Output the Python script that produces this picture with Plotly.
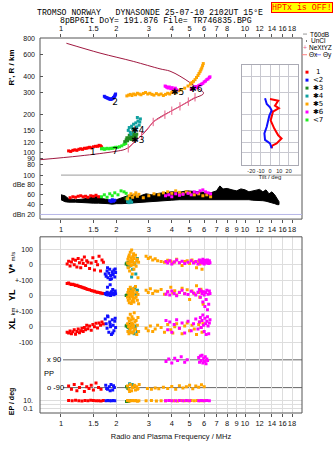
import math
import plotly.graph_objects as go

# ---------------- page geometry ----------------
W, H = 335, 451
ML, MR, MT, MB = 40, 33, 38, 32
PW, PH = W - ML - MR, H - MT - MB


def px(x):
    """pixel column -> paper x"""
    return (x - ML) / PW


def py(y):
    """pixel row -> paper y"""
    return (H - MB - y) / PH


# ---------------- axis ticks ----------------
top_ticks = [1, 1.5, 2, 3, 4, 5, 6, 7, 8, 10, 12, 14, 16, 18]
bot_ticks = [1, 1.5, 2, 3, 4, 5, 6, 7, 8, 9, 10, 12, 14, 16, 18]
h_ticks = [80, 90, 100, 120, 150, 200, 300, 400, 600, 800]
db_ticks = [20, 40, 60, 80, 100]
db_text = ["dBn 20", "40", "60", "dBe 80", "100"]

# ---------------- model profile (MHz, km) ----------------
prof_f = [0.76, 1.27, 1.97, 2.23, 2.37, 2.53, 2.75, 2.97, 3.17, 3.45, 4.00, 4.43, 4.92,
          5.35, 5.70, 5.90, 5.95, 5.88, 5.72, 5.46, 5.02, 4.43, 3.91, 3.45, 2.47, 1.63, 1.07]
prof_h = [87.5, 94, 102, 106, 112, 123, 137, 155, 175, 191, 215, 233, 254,
          272, 282, 290, 298, 306, 314, 329, 360, 405, 444, 463, 531, 618, 740]

# true-height points
nxt_f = [2.32, 2.74, 3.17, 3.67, 4.00, 4.43, 4.92, 5.35]
nxt_h = [108, 137, 175, 200, 215, 233, 254, 275]

# ---------------- echo traces: frequency (MHz) vs virtual range (km) ----------------
e1_f = [1.10, 1.13, 1.16, 1.19, 1.22, 1.25, 1.28, 1.31, 1.34, 1.37, 1.40, 1.43, 1.46, 1.50, 1.54, 1.58, 1.61, 1.64, 1.66]
e1_h = [103, 102, 104, 105, 104, 106, 107, 106, 108, 108, 109, 110, 109, 111, 112, 112, 114, 113, 111]
e2_f = [1.72, 1.74, 1.76, 1.78, 1.80, 1.82, 1.84, 1.86, 1.88, 1.90, 1.92, 1.93, 1.95, 1.96, 1.97, 1.98]
e2_h = [280, 276, 274, 272, 270, 268, 266, 265, 266, 268, 270, 274, 278, 282, 287, 292]
e3_f = [2.22, 2.26, 2.30, 2.33, 2.36, 2.40, 2.44, 2.47, 2.50, 2.53, 2.56, 2.58, 2.35, 2.42, 2.48, 2.28]
e3_h = [122, 126, 124, 130, 128, 133, 130, 136, 132, 138, 134, 140, 137, 127, 142, 131]
e4_f = [2.32, 2.35, 2.38, 2.42, 2.45, 2.48, 2.52, 2.55, 2.58, 2.62, 2.66, 2.70, 2.40, 2.50, 2.60, 2.68]
e4_h = [150, 158, 145, 162, 155, 168, 150, 172, 160, 178, 165, 185, 140, 147, 190, 175]
e5_f = [2.28, 2.33, 2.38, 2.43, 2.48, 2.54, 2.60, 2.66, 2.72, 2.80, 2.88, 2.96, 3.04, 3.12, 3.20, 3.30,
        3.40, 3.50, 3.60, 3.70, 3.80, 3.90, 4.00, 4.10, 4.20, 4.35, 4.50, 4.70, 4.90, 5.05, 5.15, 5.25,
        5.35, 5.45, 5.55, 5.62, 5.70, 5.76, 5.82, 5.88, 5.93]
e5_h = [282, 286, 290, 284, 292, 288, 296, 292, 288, 295, 300, 292, 296, 290, 286, 294,
        288, 292, 284, 290, 296, 292, 300, 305, 298, 310, 315, 325, 338, 350, 360, 368,
        380, 395, 410, 425, 440, 455, 470, 490, 510]
e6_f = [3.68, 3.72, 3.76, 3.82, 3.88, 3.95, 4.02, 4.10, 4.18, 4.26, 5.10, 5.20, 5.30, 5.40, 5.50,
        5.60, 5.70, 5.80, 5.90, 6.00, 6.10, 6.20, 6.30, 6.40, 6.45]
e6_h = [338, 335, 330, 326, 332, 322, 328, 318, 325, 315, 318, 322, 330, 335, 328,
        340, 345, 350, 355, 365, 370, 380, 385, 395, 400]
e7_f = [1.66, 1.69, 1.72, 1.75, 1.78, 1.82, 1.86, 1.90, 1.94, 1.98, 2.03, 2.08, 2.14, 2.20, 2.25]
e7_h = [107, 108, 106, 107, 108, 107, 108, 108, 109, 110, 110, 111, 113, 116, 118]

lab_txt = ["1", "2", "7", "✱3", "✱4", "✱5", "✱6"]
lab_f = [1.49, 1.97, 1.97, 2.62, 2.62, 4.30, 5.40]
lab_h = [99, 250, 101, 125, 150, 300, 318]

# ---------------- tilt profile (deg vs km) ----------------
tx_h = [266, 258, 236, 225, 211, 180, 155, 137, 129, 118, 113.5, 108]
tx_d = [0, 8.8, 5.3, 9.5, 3.2, 0.7, 4.6, 8.8, 12.4, 7.1, 2.4, 1.8]
ty_h = [270, 243, 229, 216, 197, 180, 160, 142, 126, 118, 108]
ty_d = [-5.3, -3.5, 0, 1.8, -0.7, -1.8, -3.5, -6, -5.3, 0, 1.8]

# ---------------- amplitude (dB) ----------------
noise_f = [1.00, 1.05, 1.10, 1.20, 1.30, 1.40, 1.50, 1.60, 1.70, 1.80, 1.90, 2.00, 2.15, 2.30, 2.50,
           2.70, 2.90, 3.10, 3.40, 3.70, 4.00, 4.40, 4.80, 5.20, 5.60, 6.00, 6.50, 7.00, 7.30, 7.60,
           8.00, 8.50, 9.00, 9.50, 10.0, 10.5, 11.0, 11.5, 12.0, 12.5, 13.0, 13.5, 14.0, 14.5, 15.0, 15.3]
noise_hi = [60, 58, 52, 50, 51, 53, 55, 57, 52, 50, 48, 50, 54, 58, 60,
            58, 62, 60, 63, 64, 66, 65, 68, 67, 66, 65, 64, 68, 78, 72,
            73, 70, 68, 72, 70, 66, 68, 70, 71, 66, 70, 62, 66, 60, 50, 46]
noise_lo = [50, 46, 45, 45, 44, 44, 43, 43, 43, 42, 41, 42, 42, 42, 43,
            44, 45, 46, 47, 48, 49, 50, 50, 51, 51, 51, 51, 51, 51, 50,
            50, 50, 50, 50, 50, 50, 49, 49, 48, 48, 47, 46, 44, 42, 40, 40]
db1_f = [1.12, 1.16, 1.20, 1.24, 1.28, 1.32, 1.36, 1.40, 1.45, 1.50, 1.55, 1.60]
db1_v = [54, 56, 55, 57, 58, 56, 57, 55, 58, 57, 59, 56]
db2_f = [1.84, 1.87, 1.90, 1.93, 1.96]
db2_v = [48, 46, 50, 47, 49]
db3_f = [2.26, 2.30, 2.34]
db3_v = [52, 55, 50]
db4_f = [2.30, 2.34, 2.38, 2.42]
db4_v = [46, 44, 48, 45]
db5_f = [2.30, 2.35, 2.40, 2.45, 2.50, 2.55, 2.60, 2.65, 2.80, 3.00, 3.20, 3.40, 3.60, 3.80, 4.00,
         4.20, 4.40, 4.60, 4.80, 5.00, 5.30, 5.60, 5.90, 6.20, 6.50]
db5_v = [52, 58, 62, 55, 60, 64, 57, 61, 54, 58, 62, 60, 64, 66, 63,
         68, 65, 62, 66, 64, 60, 62, 58, 60, 56]
db6_f = [3.70, 3.85, 4.00, 4.20, 4.40, 4.60, 4.90, 5.10, 5.30, 5.50, 5.70, 5.90, 6.10, 6.30, 6.50]
db6_v = [58, 60, 56, 62, 59, 61, 63, 60, 66, 64, 68, 70, 66, 64, 62]
db7_f = [1.66, 1.72, 1.78, 1.84, 1.90, 1.96, 2.04, 2.12, 2.20, 2.26]
db7_v = [56, 60, 55, 62, 58, 64, 60, 68, 66, 63]

# ---------------- velocity V* (m/s), location YL / XL (km) ----------------
b1_f = [1.08, 1.10, 1.12, 1.14, 1.16, 1.18, 1.20, 1.22, 1.24, 1.26, 1.28, 1.30, 1.32, 1.34, 1.36,
        1.38, 1.40, 1.43, 1.46, 1.49, 1.52, 1.55, 1.58, 1.61, 1.64, 1.67, 1.70]
b1_v = [5, 22, -8, 18, 35, 0, 28, -15, 40, 12, -20, 30, 8, 50, -5, 25, 15, -25, 10, 45, -35, 20, 0, 55, -40, 30, 15]
b1_yl = [78, 82, 76, 72, 74, 70, 66, 68, 62, 60, 58, 55, 52, 50, 46, 44, 40, 38, 34, 30, 28, 24, 22, 20, 18, 16, 15]
b1_xl = [-35, -40, -28, -45, -32, -20, -48, -30, -15, -38, -25, -10, -30, -5, -20, 10, -12, 5, -22, 15, 0, 22, -8, 25, 10, 30, 18]

b2_f = [1.74, 1.76, 1.78, 1.80, 1.82, 1.84, 1.86, 1.88, 1.90, 1.92, 1.94, 1.96, 1.98, 1.79, 1.85, 1.91, 1.97]
b2_v = [-60, -75, -40, -85, -55, -30, -70, -90, -45, -65, -35, -80, -50, -20, -95, -60, -28]
b2_yl = [15, 8, 22, 5, 12, 18, 2, 25, 10, 14, 6, 20, 12, 55, 70, 40, 30]
b2_xl = [50, 20, -10, 65, -35, 30, 0, -50, 45, 10, -25, 35, -5, 70, 15, -40, 55]

b3_f = [2.26, 2.28, 2.30, 2.32, 2.34, 2.36]
b3_v = [5, 10, 0, -15, 15, -5]
b3_yl = [2, 5, 0, 10, -5, 3]
b3_xl = [5, 10, 0, -5, 15, 8]

b4_f = [2.35, 2.40, 2.45, 2.50, 2.55, 2.60, 2.42, 2.52]
b4_v = [-10, 20, -30, 5, -60, 40, -80, 10]
b4_yl = [30, 40, 20, 45, 10, 35, 25, 50]
b4_xl = [-20, -35, 10, -45, 5, -30, 20, -10]

b5_f = [2.30, 2.31, 2.32, 2.33, 2.34, 2.35, 2.36, 2.37, 2.38, 2.39, 2.40, 2.41, 2.42, 2.43, 2.44,
        2.45, 2.46, 2.47, 2.48, 2.49, 2.50, 2.52, 2.54, 2.56, 2.58, 2.60, 2.62, 2.64,
        2.90, 2.98, 3.06, 3.15, 3.25, 3.35, 3.50, 3.65, 3.80, 3.95, 4.05, 4.15, 4.25, 4.40,
        4.55, 4.70, 4.85, 5.00, 5.15, 5.30, 5.45, 5.60, 5.68, 5.76, 5.84, 5.92, 6.00, 6.10]
b5_v = [10, 35, -20, 50, 5, 62, -40, 25, 80, 15, -5, 45, 95, 30, -60, 20, 55, 0, 70, -30, 40, 10, 60, -10, 25, 35, -85, 15,
        55, 40, 48, 30, 38, 25, 20, 15, 28, 22, 10, 18, 35, 12, -5, 20, 25, 8, 30, 15, -20, 22, 5, 18, -30, 12]
b5_yl = [-10, 20, -30, 40, 5, -45, 15, -20, 55, 0, 30, -50, 10, -35, 25, -5, 45, -25, 12, -40, 35, -15, 60, -8, 20, -30, 8, -52,
         35, 20, 45, 15, 30, 28, 40, 10, 25, 55, 18, 32, 5, 22, 48, 15, 38, -25, 30, 12, 65, 20, -10, 42, 25, -55]
b5_xl = [20, -30, 55, 0, -45, 35, 10, -20, 80, -10, 45, -35, 25, 65, -5, 15, -40, 50, 5, -25, 90, 30, -15, 40, -50, 10, 60, -30,
         -10, -25, 5, -30, -15, 10, -5, -35, 15, -20, -40, 0, 20, -10, -45, 5, 25, -25, 10, -15, -50, 15, 30, -5, -35, 20]

b6_f = [3.72, 3.80, 3.90, 4.00, 4.12, 4.25, 4.40, 4.55, 4.70, 4.90, 5.10, 5.25, 5.40, 5.55, 5.65,
        5.72, 5.78, 5.84, 5.90, 5.95, 6.00, 6.05, 6.10, 6.15, 6.20, 6.25, 6.30, 6.35, 6.40, 6.45]
b6_v = [20, 10, 25, 5, 18, 30, 12, 22, 8, 15, 25, 10, 20, 5, 30, 15, 25, 10, 35, 20, 5, 28, 15, 22, 10, 30, 18, 8, 25, 12]
b6_yl = [10, 25, 5, 30, 15, 0, 20, 35, 12, 8, 28, 18, 5, 22, 40, -10, 30, 15, -40, 25, 5, -70, 20, -25, 35, -90, 10, -55, 30, 15]
b6_xl = [40, -20, 30, -35, 15, 45, -10, 25, -40, 35, -25, 20, 50, -15, 30, 60, -5, 40, 75, 10, -30, 55, 20, -50, 35, 65, 5, -45, 25, 45]

# ---------------- polarization PP (deg) and EP (deg) ----------------
pp1_f = [1.10, 1.14, 1.18, 1.22, 1.26, 1.30, 1.34, 1.38, 1.42, 1.46, 1.50, 1.55, 1.60, 1.65]
pp1_v = [-80, -100, -70, -110, -90, -65, -115, -85, -95, -75, -105, -60, -90, -100]
ep1_f = [1.10, 1.15, 1.20, 1.25, 1.30, 1.35, 1.40, 1.45, 1.50, 1.55, 1.60, 1.65, 1.70]
ep1_v = [12, 10, 15, 11, 9, 13, 10, 14, 12, 10, 11, 9, 13]
pp2_f = [1.75, 1.79, 1.83, 1.87, 1.91, 1.95, 1.77, 1.85, 1.93]
pp2_v = [-75, -100, -85, -70, -105, -90, -95, -110, -78]
ep2_f = [1.76, 1.80, 1.84, 1.88, 1.92, 1.96]
ep2_v = [11, 12, 10, 11, 13, 10]
pp3_f = [2.27, 2.31]
pp3_v = [-85, -95]
ep3_f = [2.27, 2.30, 2.33]
ep3_v = [7, 6, 8]
pp4_f = [2.36, 2.44, 2.50]
pp4_v = [-65, -70, -80]
ep4_f = [2.40]
ep4_v = [12]
pp5_f = [2.30, 2.34, 2.38, 2.42, 2.46, 2.50, 2.54, 2.58, 2.62, 2.66, 2.36, 2.44, 2.52, 2.60, 2.95, 3.10,
         3.25, 3.40, 3.60, 3.80, 4.00, 4.20, 4.40, 4.60, 4.80, 5.00, 5.20, 5.40, 5.60, 5.80, 6.00]
pp5_v = [-80, -100, -70, -110, -90, -75, -105, -85, -95, -70, -115, -88, -78, -100, -95, -100,
         -92, -98, -88, -95, -82, -100, -78, -92, -85, -75, -98, -80, -88, -72, -85]
ep5_f = [2.30, 2.35, 2.40, 2.45, 2.50, 2.55, 2.60, 2.65, 2.90, 3.10, 3.30, 3.50, 3.70, 3.90, 4.10,
         4.30, 4.50, 4.70, 4.90, 5.10, 5.30, 5.50, 5.70, 5.90, 6.10]
ep5_v = [12, 9, 11, 13, 10, 12, 8, 11, 10, 12, 9, 11, 10, 12, 11, 9, 12, 10, 11, 13, 10, 12, 11, 10, 12]
pp6_f = [3.72, 3.85, 4.00, 4.15, 4.30, 4.50, 4.70, 4.85, 5.60, 5.66, 5.72, 5.78, 5.84, 5.90,
         5.96, 6.02, 6.08, 6.14, 6.20, 6.26]
pp6_v = [80, 95, 70, 100, 85, 110, 75, 90, 105, 75, 115, 85, 120, 70, 100, 80, 110, 65, 95, 85]
ep6_f = [3.70, 3.85, 4.00, 4.20, 4.40, 4.60, 4.80, 5.00, 5.60, 5.80, 6.00, 6.20, 6.40]
ep6_v = [11, 12, 10, 11, 13, 10, 12, 11, 10, 12, 11, 13, 10]

# ---------------- colours ----------------
C1, C2, C3, C4, C5, C6, C7 = "#ff0000", "#1010ff", "#208a20", "#10a0a0", "#ffa500", "#ff00ff", "#22ee22"
PROF = "#a01840"
NXT = "#e8608a"
FRAME = "#555555"
GRID = "#dddddd"

# stacked rows of the lower panel
V_OFF, YL_OFF, XL_OFF = 0, -200, -400
PP_MID, PP_SCALE = -702.5, 0.9944
EP_REF, EP_DEC = -877, 23.5

fig = go.Figure()


def dots(xs, ys, color, xa, ya, size=3):
    fig.add_trace(go.Scatter(x=xs, y=ys, mode="markers", xaxis=xa, yaxis=ya,
                             marker=dict(symbol="square", size=size, color=color, line_width=0),
                             hoverinfo="skip"))


# upper panel: profile, echoes
fig.add_trace(go.Scatter(x=prof_f, y=prof_h, mode="lines", line=dict(color=PROF, width=1, shape="spline"),
                         xaxis="x", yaxis="y", hoverinfo="skip"))
fig.add_trace(go.Scatter(x=nxt_f, y=nxt_h, mode="lines+markers", line=dict(color=NXT, width=1),
                         marker=dict(symbol="line-ns-open", size=6, line=dict(color=NXT, width=1)),
                         xaxis="x", yaxis="y", hoverinfo="skip"))
for xs, ys, c in [(e1_f, e1_h, C1), (e2_f, e2_h, C2), (e7_f, e7_h, C7), (e3_f, e3_h, C3),
                  (e4_f, e4_h, C4), (e5_f, e5_h, C5), (e6_f, e6_h, C6)]:
    dots(xs, ys, c, "x", "y")
fig.add_trace(go.Scatter(x=lab_f, y=lab_h, mode="text", text=lab_txt, xaxis="x", yaxis="y",
                         textfont=dict(family="DejaVu Sans", size=9, color="black"), hoverinfo="skip"))

# tilt inset
fig.add_trace(go.Scatter(x=tx_d, y=tx_h, mode="lines", line=dict(color="#ff0000", width=2),
                         xaxis="x4", yaxis="y3", hoverinfo="skip"))
fig.add_trace(go.Scatter(x=ty_d, y=ty_h, mode="lines", line=dict(color="#1010ff", width=2),
                         xaxis="x4", yaxis="y3", hoverinfo="skip"))

# amplitude band
fig.add_trace(go.Scatter(x=noise_f + noise_f[::-1], y=noise_hi + noise_lo[::-1], mode="lines",
                         fill="toself", fillcolor="black", line=dict(color="black", width=1),
                         xaxis="x2", yaxis="y2", hoverinfo="skip"))
for xs, ys, c in [(db1_f, db1_v, C1), (db2_f, db2_v, C2), (db7_f, db7_v, C7), (db3_f, db3_v, C3),
                  (db4_f, db4_v, C4), (db5_f, db5_v, C5), (db6_f, db6_v, C6)]:
    dots(xs, ys, c, "x2", "y2")

# lower panel rows
for f, v, yl, xl, c in [(b1_f, b1_v, b1_yl, b1_xl, C1), (b2_f, b2_v, b2_yl, b2_xl, C2),
                        (b3_f, b3_v, b3_yl, b3_xl, C3), (b4_f, b4_v, b4_yl, b4_xl, C4),
                        (b5_f, b5_v, b5_yl, b5_xl, C5), (b6_f, b6_v, b6_yl, b6_xl, C6)]:
    dots(f, [a + V_OFF for a in v], c, "x3", "y4")
    dots(f, [a + YL_OFF for a in yl], c, "x3", "y4")
    dots(f, [a + XL_OFF for a in xl], c, "x3", "y4")

for pf, pv, ef, ev, c in [(pp1_f, pp1_v, ep1_f, ep1_v, C1), (pp2_f, pp2_v, ep2_f, ep2_v, C2),
                          (pp3_f, pp3_v, ep3_f, ep3_v, C3), (pp4_f, pp4_v, ep4_f, ep4_v, C4),
                          (pp5_f, pp5_v, ep5_f, ep5_v, C5), (pp6_f, pp6_v, ep6_f, ep6_v, C6)]:
    dots(pf, [PP_MID + a * PP_SCALE for a in pv], c, "x3", "y4")
    dots(ef, [EP_REF + EP_DEC * math.log10(a / 10) for a in ev], c, "x3", "y4")

TICKF = dict(family="Liberation Sans", size=7.5, color="#111111")
YTICKF = dict(family="Liberation Sans", size=7, color="#111111")
XR = [math.log10(0.769), math.log10(20.4)]

fig.update_layout(
    width=W, height=H, margin=dict(l=ML, r=MR, t=MT, b=MB),
    paper_bgcolor="white", plot_bgcolor="white", showlegend=False,
    xaxis=dict(type="log", range=XR, domain=[0, 1], anchor="y", side="top", tickangle=0,
               tickvals=top_ticks, ticktext=[str(t) for t in top_ticks], tickfont=TICKF,
               ticks="outside", ticklen=3, tickcolor=FRAME, showgrid=False, zeroline=False),
    xaxis2=dict(type="log", range=XR, domain=[0, 1], anchor="y2", side="bottom", tickangle=0,
                tickvals=bot_ticks, ticktext=[str(t) for t in bot_ticks], tickfont=TICKF,
                ticks="outside", ticklen=3, tickcolor=FRAME, showgrid=False, zeroline=False),
    xaxis3=dict(type="log", range=XR, domain=[0, 1], anchor="y4", side="bottom", tickangle=0,
                tickvals=bot_ticks, ticktext=[str(t) for t in bot_ticks], tickfont=TICKF,
                ticks="outside", ticklen=3, tickcolor=FRAME, showgrid=True, gridcolor=GRID,
                zeroline=False,
                title=dict(text="Radio and Plasma Frequency / MHz", font=TICKF, standoff=6)),
    xaxis4=dict(range=[-30, 30], domain=[px(242), px(298)], anchor="y3", side="bottom", tickangle=0,
                tickvals=[-30, -20, -10, 0, 10, 20, 30], ticktext=["", "-20", "-10", "0", "10", "20", ""],
                tickfont=dict(family="Liberation Sans", size=5.5, color="#222"), ticks="", showgrid=True,
                gridcolor="#c8c8d0", zeroline=False, showline=True, mirror=True, linecolor="#aaaab4",
                title=dict(text="Tilt / deg", font=dict(family="Liberation Sans", size=6, color="#222"),
                           standoff=0)),
    yaxis=dict(type="log", range=[1.893, 2.911], domain=[py(168), py(38)], anchor="x",
               tickvals=h_ticks, ticktext=[str(t) for t in h_ticks], tickfont=YTICKF,
               ticks="inside", ticklen=3, tickcolor=FRAME, ticklabelstandoff=4,
               showgrid=False, zeroline=False),
    yaxis2=dict(range=[10.6, 118.6], domain=[py(222), py(168)], anchor="x2",
                tickvals=db_ticks, ticktext=db_text, tickfont=YTICKF,
                ticks="inside", ticklen=3, tickcolor=FRAME, ticklabelstandoff=4,
                showgrid=False, zeroline=False),
    yaxis3=dict(type="log", range=[1.9007, 2.6994], domain=[py(167), py(65)], anchor="x4",
                tickvals=[100, 120, 150, 200, 300, 400], showticklabels=False, ticks="",
                showgrid=True, gridcolor="#c8c8d0", zeroline=False, showline=True, mirror=True,
                linecolor="#aaaab4"),
    yaxis4=dict(range=[-955.5, 179.4], domain=[0, py(240)], anchor="x3",
                tickvals=[100, 0, -100, -200, -300, -400, -500, EP_REF, EP_REF - 2 * EP_DEC],
                ticktext=["100", "0", "+-100", "0", "+-100", "0", "-100", "10.", "0.1"],
                tickfont=YTICKF, ticks="", ticklabelstandoff=6,
                showgrid=True, gridcolor=GRID, zeroline=False),
)

shapes = []
# panel frames
for (y0, y1) in [(38, 222), (240, 419)]:
    shapes.append(dict(type="rect", xref="paper", yref="paper", x0=0, x1=1, y0=py(y1), y1=py(y0),
                       line=dict(color=FRAME, width=1), layer="above"))
# amplitude reference lines
shapes.append(dict(type="line", xref="paper", yref="y2", x0=px(61), x1=1, y0=100, y1=100,
                   line=dict(color="#9a9a9a", width=1)))
shapes.append(dict(type="line", xref="paper", yref="y2", x0=0, x1=1, y0=20, y1=20,
                   line=dict(color="#b8b8e8", width=1)))
# polarization reference lines
for yv in (PP_MID + 90 * PP_SCALE, PP_MID - 90 * PP_SCALE):
    shapes.append(dict(type="line", xref="paper", yref="y4", x0=px(63), x1=1, y0=yv, y1=yv,
                       line=dict(color="#666666", width=1), layer="below"))
shapes.append(dict(type="line", xref="paper", yref="y4", x0=0, x1=1, y0=EP_REF - EP_DEC,
                   y1=EP_REF - EP_DEC, line=dict(color=GRID, width=1), layer="below"))

# legend swatches
LEG = [C1, C2, C3, C4, C5, C6, C7]
LEG_T = ["1", "<2", "✱3", "✱4", "✱5", "✱6", "<7"]
for i, c in enumerate(LEG):
    yy = 72.7 + 8.1 * i
    shapes.append(dict(type="rect", xref="paper", yref="paper", x0=px(305.5), x1=px(308.5),
                       y0=py(yy + 1.5), y1=py(yy - 1.5), fillcolor=c, line_width=0))
shapes.append(dict(type="line", xref="paper", yref="paper", x0=px(303), x1=px(307), y0=py(34), y1=py(34),
                   line=dict(color="#999999", width=1)))
shapes.append(dict(type="rect", xref="paper", yref="paper", x0=px(306), x1=px(307), y0=py(41.5), y1=py(40.5),
                   fillcolor="black", line_width=0))
shapes.append(dict(type="line", xref="paper", yref="paper", x0=px(302), x1=px(307), y0=py(55), y1=py(55),
                   line=dict(color="#ff8080", width=1)))
shapes.append(dict(type="line", xref="paper", yref="paper", x0=px(316), x1=px(321), y0=py(55), y1=py(55),
                   line=dict(color="#8080ff", width=1)))
fig.update_layout(shapes=shapes)

ann = []


def note(x, y, text, size=8, color="black", family="Liberation Sans", angle=0, xanchor="center", **kw):
    ann.append(dict(xref="paper", yref="paper", x=px(x), y=py(y), text=text, showarrow=False,
                    font=dict(family=family, size=size, color=color), textangle=angle,
                    xanchor=xanchor, yanchor="middle", borderpad=0, **kw))


NB = "\u00a0"
note(150, 12, f"TROMSO{NB}NORWAY{NB}{NB}{NB}DYNASONDE{NB}25-07-10{NB}2102UT{NB}15°E",
     size=8.2, family="Liberation Mono")
note(156, 20.5, f"8pBP6It{NB}DoY={NB}191.876{NB}File={NB}TR746835.BPG", size=8.2, family="Liberation Mono")
note(302.3, 7.2, f"HPTx{NB}is{NB}OFF!", size=8.3, family="Liberation Mono", color="#ff0000",
     bgcolor="#ffff00", bordercolor="#ff0000", borderwidth=1)

note(12, 68, "<b>R', R / km</b>", size=8, angle=-90)
note(12, 266, "<b>V*</b> <span style='font-size:6px'>m/s</span>", size=9, angle=-90)
note(12, 299, "<b>YL</b>", size=9, angle=-90)
note(12, 323, "<b>XL</b> <span style='font-size:6px'>km</span>", size=9, angle=-90)
note(12, 407, "<b>EP / deg</b>", size=7, angle=-90)
note(46, 365, "x 90", size=7.5, xanchor="left")
note(43, 379, "PP", size=7.5, xanchor="left")
note(46, 393, "o -90", size=7.5, xanchor="left")

# legend text
note(309, 34, "T60dB", size=6.5, xanchor="left")
note(310, 41, "UnCl", size=6.5, xanchor="left")
note(304.5, 48, "+", size=7, color=NXT, xanchor="center")
note(308, 48, "NeXtYZ", size=6.5, xanchor="left")
note(308, 55, "Θx", size=6.5, xanchor="left")
note(322, 55, "Θy", size=6.5, xanchor="left")
for i, t in enumerate(LEG_T):
    note(318, 72.7 + 8.1 * i, t, size=7, family="DejaVu Sans", xanchor="center")

fig.update_layout(annotations=ann)
fig.write_html("out.html")
